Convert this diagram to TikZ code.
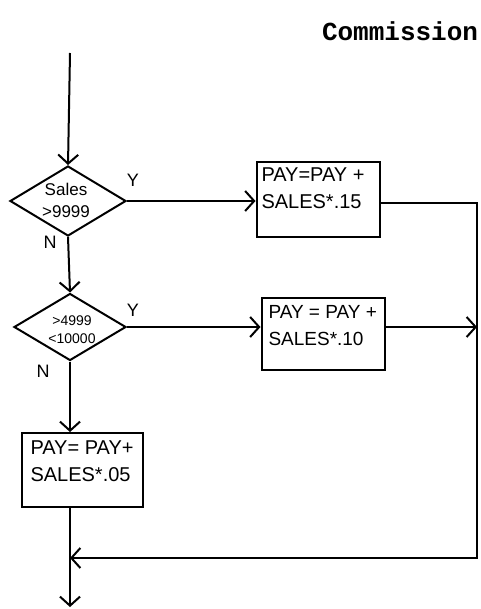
\documentclass[tikz,border=0pt]{standalone}
\usepackage{fontspec}
\setmainfont{Liberation Sans}
\newfontfamily\typefont{Liberation Mono}
\usetikzlibrary{shapes.geometric,arrows.meta,calc}
\begin{document}
\begin{tikzpicture}[x=1pt,y=-1pt,
  line width=2pt,
  flow/.style={-{Straight Barb[length=9pt,width=20pt,line width=2pt]}},
  plain/.style={-},
  decision/.style={draw,diamond,inner sep=0pt,aspect=1.6},
  procbox/.style={draw,rectangle,inner sep=0pt},
  boxtext/.style={anchor=north west,inner sep=0pt,align=left,font=\fontsize{20}{27}\selectfont},
  dtext/.style={inner sep=0pt,align=center},
  yn/.style={inner sep=0pt,font=\fontsize{18}{18}\selectfont}]
\useasboundingbox[fill=white] (0,0) rectangle (480,609);
% title
\node[anchor=west,inner sep=0pt,font=\typefont\bfseries\fontsize{26}{26}\selectfont] (title) at (321,31) {Commission};
% coordinates
\coordinate (start) at (70,53);
\coordinate (rt) at (477,203);
\coordinate (rb) at (477,558);
\coordinate (join) at (70,558);
\coordinate (stop) at (70,607);
% decisions
\node[decision,minimum width=116pt,minimum height=70pt] (d1) at (68,201) {};
\node[dtext,font=\fontsize{17}{22}\selectfont] (d1t) at (66,200) {Sales\\>9999};
\node[decision,minimum width=112pt,minimum height=67pt] (d2) at (70,327) {};
\node[dtext,font=\fontsize{14}{18}\selectfont] (d2t) at (72,330) {>4999\\<10000};
% boxes
\node[procbox,minimum width=123pt,minimum height=75pt] (b1) at (318,200) {};
\node[boxtext] (b1t) at ($(b1.north west)+(5,5)$) {PAY=PAY +\\SALES*.15};
\node[procbox,minimum width=123pt,minimum height=72pt] (b2) at (323,334) {};
\node[boxtext,font=\fontsize{19}{27}\selectfont] (b2t) at ($(b2.north west)+(7,7)$) {PAY = PAY +\\SALES*.10};
\node[procbox,minimum width=121pt,minimum height=74pt] (b3) at (82,470) {};
\node[boxtext] (b3t) at ($(b3.north west)+(9,8)$) {PAY= PAY+\\SALES*.05};
% Y / N labels
\node[yn] (y1) at (133,180) {Y};
\node[yn] (n1) at (50,242) {N};
\node[yn] (y2) at (133,310) {Y};
\node[yn] (n2) at (43,371) {N};
% connectors
\draw[flow] (start) -- (d1.north);
\draw[flow] (d1.east) -- (d1.east -| b1.west);
\draw[flow] (d1.south) -- (d2.north);
\draw[flow] (d2.east) -- (d2.east -| b2.west);
\draw[flow] (d2.south) -- (d2.south |- b3.north);
\draw[plain] (b1.east |- rt) -- (rt) -- (rb) -- (join);
\draw[flow] (b2.east |- d2.east) -- (d2.east -| rt);
\draw[flow] (rb) -- (join);
\draw[flow] (d2.south |- b3.south) -- (stop);
\end{tikzpicture}
\end{document}
